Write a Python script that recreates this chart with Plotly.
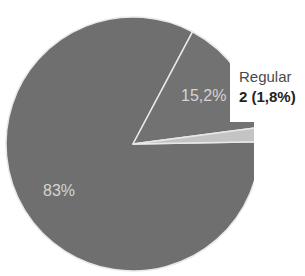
import math
import plotly.graph_objects as go

categories = ["Bom", "Ótimo", "Regular"]
counts = [93, 17, 2]
colors = ["#6f6f6f", "#727272", "#c4c4c4"]
show_inside = [True, True, False]

total = sum(counts)
def fmt(v):
    p = v / total * 100
    s = f"{p:.1f}"
    if s.endswith(".0"):
        s = s[:-2]
    return s.replace(".", ",") + "%"

W, H = 305, 276
cx, cy, r = 133, 144, 127
rotation = 89
FONT = "Liberation Sans, Arial, sans-serif"

fig = go.Figure(go.Pie(
    labels=categories,
    values=counts,
    textinfo="none",
    sort=False,
    direction="clockwise",
    rotation=rotation,
    marker=dict(colors=colors, line=dict(color="#e8e8e8", width=1.5)),
    domain=dict(x=[(cx - r) / W, (cx + r) / W], y=[1 - (cy + r) / H, 1 - (cy - r) / H]),
    showlegend=False,
    hoverinfo="label+value+percent",
))

# inside percentage labels placed along each slice's bisector
start = rotation
for c, show in zip(counts, show_inside):
    span = c / total * 360
    mid = math.radians(start + span / 2)
    start += span
    if not show:
        continue
    rr = 0.68 * r
    px = cx + rr * math.sin(mid)
    py = cy - rr * math.cos(mid) + 1
    fig.add_annotation(xref="paper", yref="paper", x=px / W, y=1 - py / H,
                       xanchor="center", yanchor="middle", showarrow=False,
                       text=fmt(c),
                       font=dict(family=FONT, size=16, color="#d4d4d4"))

# white panels that clip the right side of the pie, as in the original
fig.add_shape(type="rect", xref="paper", yref="paper", layer="above",
              x0=230 / W, x1=1, y0=1 - 122 / H, y1=1 - 55 / H,
              fillcolor="white", line=dict(width=0))
fig.add_shape(type="rect", xref="paper", yref="paper", layer="above",
              x0=254 / W, x1=1, y0=0, y1=1 - 122 / H,
              fillcolor="white", line=dict(width=0))

fig.add_annotation(xref="paper", yref="paper", x=237 / W, y=1 - 66 / H,
                   xanchor="left", yanchor="top", align="left", showarrow=False,
                   text=f"<span style='color:#4a4a4a'>{categories[2]}</span><br>"
                        f"<b>{counts[2]} ({fmt(counts[2])})</b>",
                   font=dict(family=FONT, size=15, color="#222"))

fig.update_layout(width=W, height=H, margin=dict(l=0, r=0, t=0, b=0),
                  paper_bgcolor="white", plot_bgcolor="white")
fig.write_html("out.html", config={"displayModeBar": False},
               post_script="document.body.style.margin='0px';")
